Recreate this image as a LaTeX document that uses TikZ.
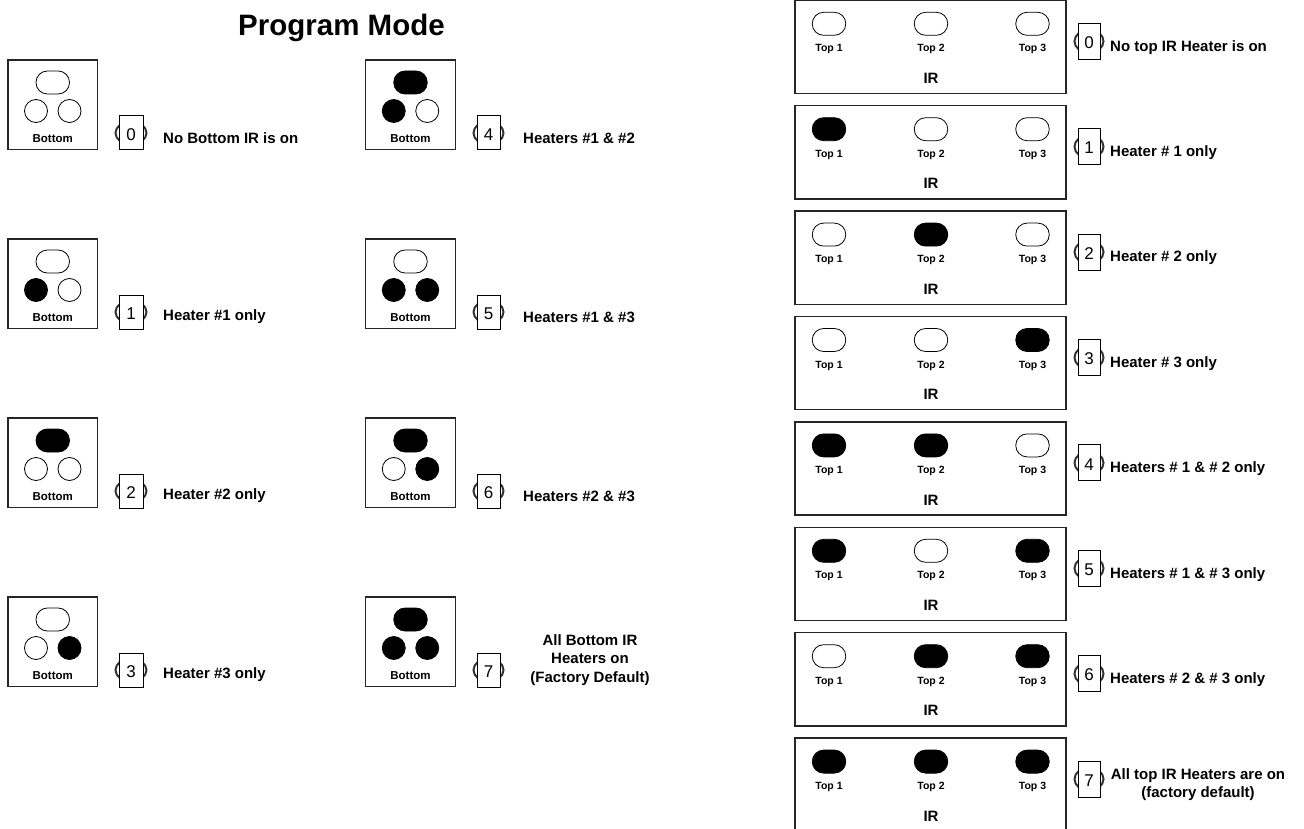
\documentclass[tikz,border=0pt]{standalone}
\usepackage{fontspec}
\setmainfont{Liberation Sans}
\begin{document}
\begin{tikzpicture}[x=1pt,y=-1pt,
  bbox/.style={draw=black!85, line width=1.3pt, fill=white, minimum width=89.5pt, minimum height=89.5pt, inner sep=0pt},
  tbox/.style={draw=black!85, line width=1.3pt, fill=white, minimum width=271pt, minimum height=93.2pt, inner sep=0pt},
  oval/.style={draw=black, line width=0.8pt, rounded corners=11.4pt, minimum width=33.5pt, minimum height=23pt, inner sep=0pt},
  circ/.style={draw=black, line width=0.8pt, circle, minimum size=23pt, inner sep=0pt},
  blabel/.style={font=\bfseries\fontsize{11.5}{13}\selectfont, inner sep=0pt},
  tlabel/.style={font=\bfseries\fontsize{10.5}{12}\selectfont, inner sep=0pt},
  irlabel/.style={font=\bfseries\fontsize{15}{17}\selectfont, inner sep=0pt},
  desc/.style={font=\bfseries\fontsize{15}{18.5}\selectfont, inner sep=0pt, anchor=west},
  desctwo/.style={font=\bfseries\fontsize{15}{18.5}\selectfont, inner sep=0pt, align=center},
  dbox/.style={draw=black, line width=1pt, fill=white, inner sep=0pt, text height=14.5pt, text depth=0pt, font=\fontsize{17}{19}\selectfont},
  knob/.style={draw=black!80, line width=2pt},
  title/.style={font=\bfseries\fontsize{29.5}{32}\selectfont, inner sep=0pt, anchor=base}
]
\useasboundingbox (0,0) rectangle (1304,829);

\newcommand{\botpanel}[6]{% name, cx, top, oval fill, left fill, right fill
  \node[bbox] (#1) at (#2, #3+44.75) {};
  \node[oval, fill=#4] (#1o) at (#2, #3+22.5) {};
  \node[circ, fill=#5] (#1l) at (#2-16.75, #3+51) {};
  \node[circ, fill=#6] (#1r) at (#2+16.75, #3+51) {};
  \node[blabel] (#1t) at (#2, #3+79) {Bottom};
}
\newcommand{\digitbox}[6]{% name, cx, cy, width, height, digit
  \draw[knob] (#2,#3) ellipse [x radius=#4/2+3.5, y radius=11.5];
  \node[dbox, minimum width=#4, minimum height=#5] (#1) at (#2,#3) {#6};
}
\newcommand{\toppanel}[5]{% name, top, f1, f2, f3
  \node[tbox] (#1) at (930.5, #2+46.6) {};
  \node[oval, fill=#3] (#1a) at (829, #2+23.5) {};
  \node[oval, fill=#4] (#1b) at (931, #2+23.5) {};
  \node[oval, fill=#5] (#1c) at (1032.5, #2+23.5) {};
  \node[tlabel] (#1la) at (829, #2+49) {Top 1};
  \node[tlabel] (#1lb) at (931, #2+49) {Top 2};
  \node[tlabel] (#1lc) at (1032.5, #2+49) {Top 3};
  \node[irlabel] (#1ir) at (931, #2+78) {IR};
}

\node[title] (title) at (341.5, 36) {Program Mode};

% Bottom panels, left column
\botpanel{b0}{52.75}{60}{white}{white}{white}
\digitbox{d0}{131}{60+73}{24}{34}{0}
\node[desc] (t0) at (163, 60+78) {No Bottom IR is on};

\botpanel{b1}{52.75}{239}{white}{black}{white}
\digitbox{d1}{131}{239+73}{24}{34}{1}
\node[desc] (t1) at (163, 239+78) {Heater \#1 only};

\botpanel{b2}{52.75}{418}{black}{white}{white}
\digitbox{d2}{131}{418+73}{24}{34}{2}
\node[desc] (t2) at (163, 418+78) {Heater \#2 only};

\botpanel{b3}{52.75}{597}{white}{white}{black}
\digitbox{d3}{131}{597+73}{24}{34}{3}
\node[desc] (t3) at (163, 597+78) {Heater \#3 only};

% Bottom panels, right column
\botpanel{b4}{410.5}{60}{black}{black}{white}
\digitbox{d4}{488.5}{60+73}{23}{34}{4}
\node[desc] (t4) at (523, 60+78) {Heaters \#1 \& \#2};

\botpanel{b5}{410.5}{239}{white}{black}{black}
\digitbox{d5}{488.5}{239+73}{23}{34}{5}
\node[desc] (t5) at (523, 239+78) {Heaters \#1 \& \#3};

\botpanel{b6}{410.5}{418}{black}{white}{black}
\digitbox{d6}{488.5}{418+73}{23}{34}{6}
\node[desc] (t6) at (523, 418+78) {Heaters \#2 \& \#3};

\botpanel{b7}{410.5}{597}{black}{black}{black}
\digitbox{d7}{488.5}{597+73}{23}{34}{7}
\node[desctwo] (t7) at (590, 597+63) {All Bottom IR\\Heaters on\\(Factory Default)};

% Top panels
\toppanel{p0}{0.3}{white}{white}{white}
\digitbox{q0}{1089}{0.3+41}{22}{36}{0}
\node[desc] (u0) at (1110, 0.3+47) {No top IR Heater is on};

\toppanel{p1}{105.7}{black}{white}{white}
\digitbox{q1}{1089}{105.7+41}{22}{36}{1}
\node[desc] (u1) at (1110, 105.7+47) {Heater \# 1 only};

\toppanel{p2}{211.1}{white}{black}{white}
\digitbox{q2}{1089}{211.1+41}{22}{36}{2}
\node[desc] (u2) at (1110, 211.1+47) {Heater \# 2 only};

\toppanel{p3}{316.5}{white}{white}{black}
\digitbox{q3}{1089}{316.5+41}{22}{36}{3}
\node[desc] (u3) at (1110, 316.5+47) {Heater \# 3 only};

\toppanel{p4}{421.9}{black}{black}{white}
\digitbox{q4}{1089}{421.9+41}{22}{36}{4}
\node[desc] (u4) at (1110, 421.9+47) {Heaters \# 1 \& \# 2 only};

\toppanel{p5}{527.3}{black}{white}{black}
\digitbox{q5}{1089}{527.3+41}{22}{36}{5}
\node[desc] (u5) at (1110, 527.3+47) {Heaters \# 1 \& \# 3 only};

\toppanel{p6}{632.7}{white}{black}{black}
\digitbox{q6}{1089}{632.7+41}{22}{36}{6}
\node[desc] (u6) at (1110, 632.7+47) {Heaters \# 2 \& \# 3 only};

\toppanel{p7}{738.1}{black}{black}{black}
\digitbox{q7}{1089}{738.1+41}{22}{36}{7}
\node[desctwo] (u7) at (1198, 738.1+46.5) {All top IR Heaters are on\\(factory default)};
\end{tikzpicture}
\end{document}
